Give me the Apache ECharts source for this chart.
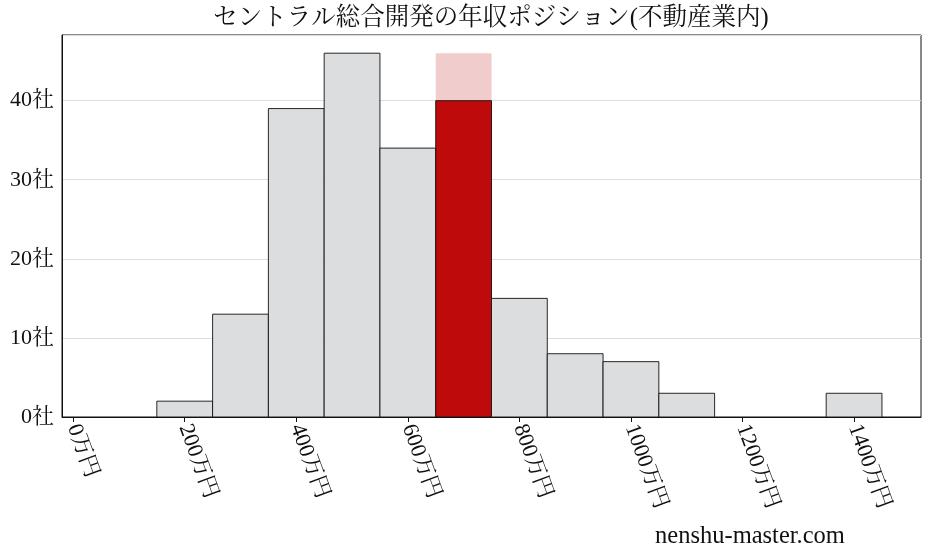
<!DOCTYPE html>
<html>
<head>
<meta charset="utf-8">
<script src="https://cdn.jsdelivr.net/npm/echarts@6/dist/echarts.min.js"></script>
<style>
html,body{margin:0;padding:0;background:#fff;}
#c{width:927px;height:557px;}
</style>
</head>
<body>
<div id="c"></div>
<script>
const titleText = 'セントラル総合開発の年収ポジション(不動産業内)';
const binStarts = [50,150,250,350,450,550,650,750,850,950,1050,1150,1250,1350];
const binEnds   = [150,250,350,450,550,650,750,850,950,1050,1150,1250,1350,1450];
const counts    = [0,2,13,39,46,34,40,15,8,7,3,0,0,3];
const highlightIndex = 6;
const xTicks = [0,200,400,600,800,1000,1200,1400];
const yTicks = [0,10,20,30,40];
const watermark = 'nenshu-master.com';

const FONT = "'Liberation Serif','DejaVu Serif','Noto Serif CJK JP','Noto Sans CJK JP',serif";
const maxCount = Math.max(...counts);

const histData = [];
binStarts.forEach((s,i)=>{ if(counts[i]>0) histData.push([s, binEnds[i], counts[i], i===highlightIndex?1:0]); });
const bgData = [[binStarts[highlightIndex], binEnds[highlightIndex], maxCount]];

function rectRenderer(fillFn, stroke){
  return function(params, api){
    const x0 = api.value(0), x1 = api.value(1), y = api.value(2);
    const p0 = api.coord([x0, y]);
    const p1 = api.coord([x1, 0]);
    return {
      type:'rect',
      shape:{x:p0[0], y:p0[1], width:p1[0]-p0[0], height:p1[1]-p0[1]},
      style:{fill: fillFn(api), stroke: stroke, lineWidth: stroke ? 0.9 : 0}
    };
  };
}

const chart = echarts.init(document.getElementById('c'), null, {renderer:'canvas'});
chart.setOption({
  animation:false,
  backgroundColor:'#ffffff',
  grid:{left:62, right:6, top:35, bottom:140, show:true, borderColor:'#111', borderWidth:1, containLabel:false},
  xAxis:{
    type:'value', min:-20, max:1520,
    axisLine:{show:true, onZero:false, lineStyle:{color:'#111', width:1}},
    axisTick:{show:true, customValues:xTicks, length:5, lineStyle:{color:'#111'}},
    axisLabel:{customValues:xTicks, rotate:-70, formatter:(v)=> String(v)+'万円', fontSize:22, color:'#111', fontFamily:FONT, margin:8},
    splitLine:{show:false}
  },
  yAxis:{
    type:'value', min:0, max:48.3, interval:10,
    axisLine:{show:true, onZero:false, lineStyle:{color:'#111', width:1}},
    axisTick:{show:false},
    axisLabel:{customValues:yTicks, formatter:(v)=> String(v)+'社', fontSize:22, color:'#111', fontFamily:FONT, margin:8},
    splitLine:{show:true, lineStyle:{color:'#dddddd', width:1}}
  },
  series:[
    {type:'custom', renderItem: rectRenderer(()=> '#f0cccc', null), data:bgData, encode:{x:[0,1], y:2}, z:1, silent:true},
    {type:'custom', renderItem: rectRenderer((api)=> api.value(3)===1 ? '#be0a0a' : '#dcdddf', '#111'), data:histData, encode:{x:[0,1], y:2}, z:2, silent:true}
  ],
  graphic:[
    {type:'text', x:491, y:19, style:{text:titleText, fontSize:24.5, fontFamily:FONT, fill:'#111', align:'center', verticalAlign:'middle'}},
    {type:'text', x:750, y:537, style:{text:watermark, fontSize:24.5, fontFamily:FONT, fill:'#111', align:'center', verticalAlign:'middle'}}
  ]
});
</script>
</body>
</html>
